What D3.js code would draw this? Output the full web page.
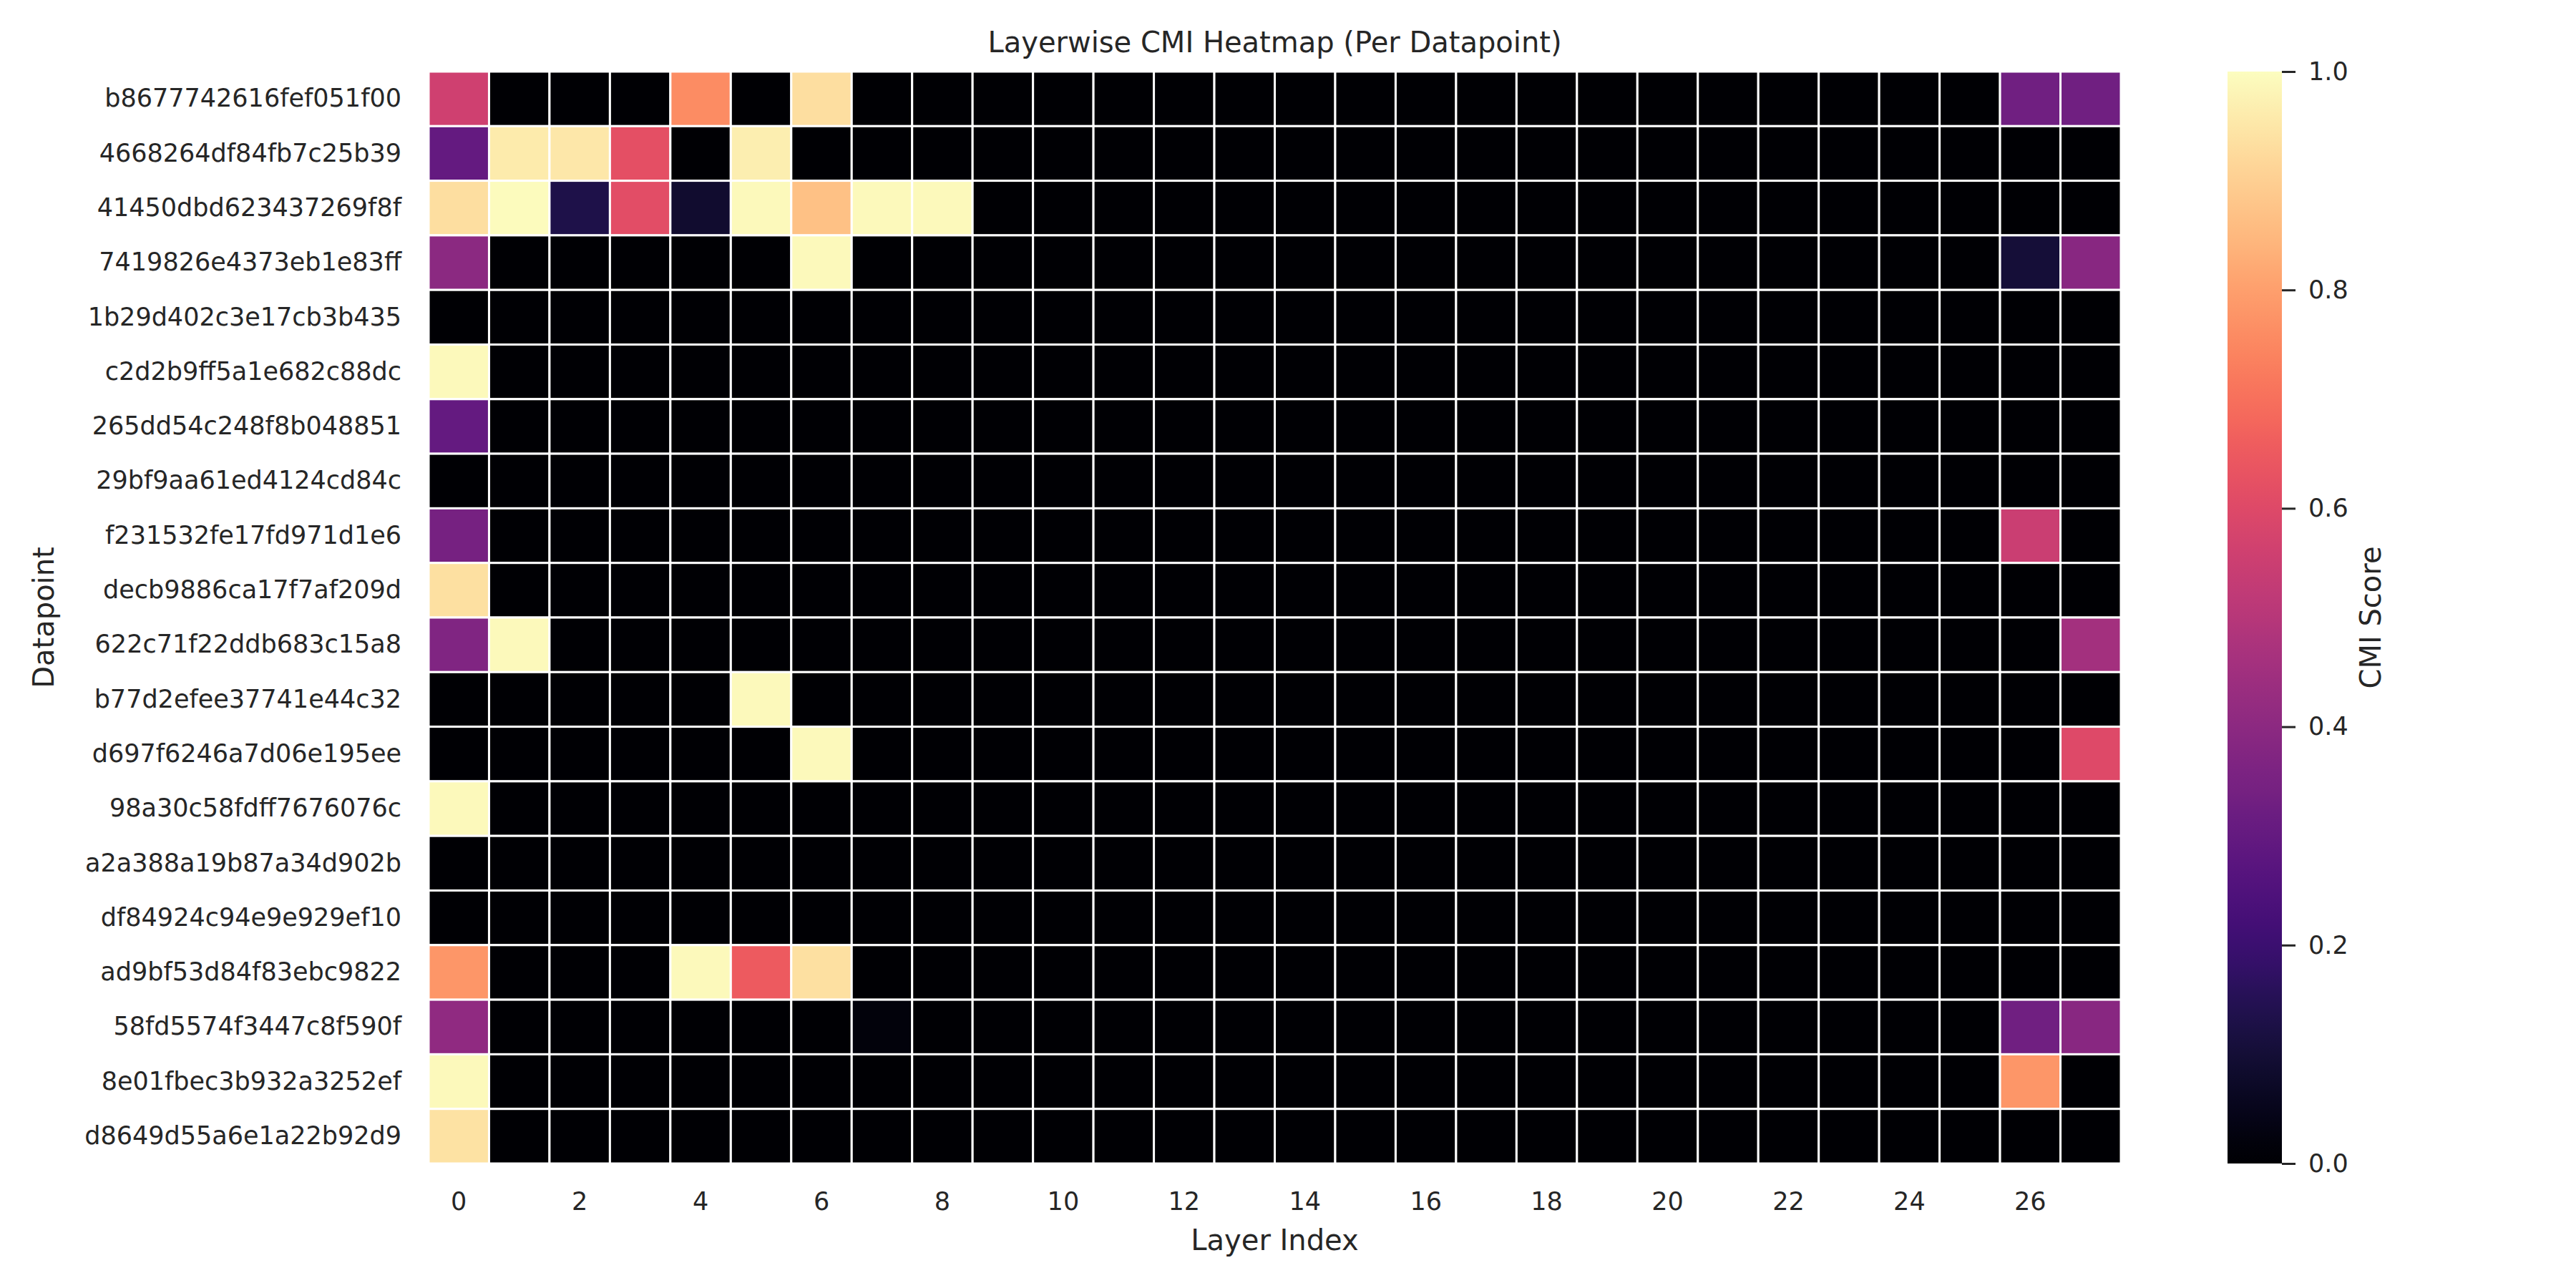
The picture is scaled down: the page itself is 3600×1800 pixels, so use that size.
<!DOCTYPE html>
<html>
<head>
<meta charset="utf-8">
<script src="https://cdn.jsdelivr.net/npm/d3@7"></script>
<style>
  body { margin: 0; background: #fff; }
  text { font-family: "DejaVu Sans", sans-serif; fill: #262626; }
</style>
</head>
<body>
<svg id="chart" width="3600" height="1800"></svg>
<script>
// datapoint ids, top to bottom
const datapoints = [
  "b8677742616fef051f00", "4668264df84fb7c25b39", "41450dbd623437269f8f",
  "7419826e4373eb1e83ff", "1b29d402c3e17cb3b435", "c2d2b9ff5a1e682c88dc",
  "265dd54c248f8b048851", "29bf9aa61ed4124cd84c", "f231532fe17fd971d1e6",
  "decb9886ca17f7af209d", "622c71f22ddb683c15a8", "b77d2efee37741e44c32",
  "d697f6246a7d06e195ee", "98a30c58fdff7676076c", "a2a388a19b87a34d902b",
  "df84924c94e9e929ef10", "ad9bf53d84f83ebc9822", "58fd5574f3447c8f590f",
  "8e01fbec3b932a3252ef", "d8649d55a6e1a22b92d9"
];

// layer indices 0..27
const layers = [0,1,2,3,4,5,6,7,8,9,10,11,12,13,14,15,16,17,18,19,20,21,22,23,24,25,26,27];
const layerTicks = [0,2,4,6,8,10,12,14,16,18,20,22,24,26];
const cbarTicks = [0, 0.2, 0.4, 0.6, 0.8, 1.0];

// CMI score per datapoint (row) and layer (column)
const cmi = [
  [0.56,0,0,0,0.76,0,0.93,0,0,0,0,0,0,0,0,0,0,0,0,0,0,0,0,0,0,0,0.33,0.33],
  [0.30,0.96,0.95,0.62,0,0.965,0,0,0,0,0,0,0,0,0,0,0,0,0,0,0,0,0,0,0,0,0,0],
  [0.93,0.995,0.13,0.61,0.086,0.99,0.87,0.99,0.99,0,0,0,0,0,0,0,0,0,0,0,0,0,0,0,0,0,0,0],
  [0.395,0,0,0,0,0,0.99,0,0,0,0,0,0,0,0,0,0,0,0,0,0,0,0,0,0,0,0.105,0.39],
  [0,0,0,0,0,0,0,0,0,0,0,0,0,0,0,0,0,0,0,0,0,0,0,0,0,0,0,0],
  [0.99,0,0,0,0,0,0,0,0,0,0,0,0,0,0,0,0,0,0,0,0,0,0,0,0,0,0,0],
  [0.30,0,0,0,0,0,0,0,0,0,0,0,0,0,0,0,0,0,0,0,0,0,0,0,0,0,0,0],
  [0,0,0,0,0,0,0,0,0,0,0,0,0,0,0,0,0,0,0,0,0,0,0,0,0,0,0,0],
  [0.345,0,0,0,0,0,0,0,0,0,0,0,0,0,0,0,0,0,0,0,0,0,0,0,0,0,0.55,0],
  [0.937,0,0,0,0,0,0,0,0,0,0,0,0,0,0,0,0,0,0,0,0,0,0,0,0,0,0,0],
  [0.37,0.99,0,0,0,0,0,0,0,0,0,0,0,0,0,0,0,0,0,0,0,0,0,0,0,0,0,0.455],
  [0,0,0,0,0,0.99,0,0,0,0,0,0,0,0,0,0,0,0,0,0,0,0,0,0,0,0,0,0],
  [0,0,0,0,0,0,0.99,0,0,0,0,0,0,0,0,0,0,0,0,0,0,0,0,0,0,0,0,0.60],
  [0.99,0,0,0,0,0,0,0,0,0,0,0,0,0,0,0,0,0,0,0,0,0,0,0,0,0,0,0],
  [0,0,0,0,0,0,0,0,0,0,0,0,0,0,0,0,0,0,0,0,0,0,0,0,0,0,0,0],
  [0,0,0,0,0,0,0,0,0,0,0,0,0,0,0,0,0,0,0,0,0,0,0,0,0,0,0,0],
  [0.78,0,0,0,0.99,0.65,0.937,0,0,0,0,0,0,0,0,0,0,0,0,0,0,0,0,0,0,0,0,0],
  [0.41,0,0,0,0,0,0,0.02,0,0,0,0,0,0,0,0,0,0,0,0,0,0,0,0,0,0,0.33,0.39],
  [0.99,0,0,0,0,0,0,0,0,0,0,0,0,0,0,0,0,0,0,0,0,0,0,0,0,0,0.78,0],
  [0.94,0,0,0,0,0,0,0,0,0,0,0,0,0,0,0,0,0,0,0,0,0,0,0,0,0,0,0]
];

const svg = d3.select("#chart");

// heatmap box
const hmLeft = 599, hmRight = 2964, hmTop = 100, hmBottom = 1626;

const x = d3.scaleBand().domain(layers).range([hmLeft, hmRight]).padding(0);
const y = d3.scaleBand().domain(datapoints).range([hmTop, hmBottom]).padding(0);
const color = d3.scaleSequential(d3.interpolateMagma).domain([0, 1]);

// flatten into cells
const cells = [];
cmi.forEach((row, i) => row.forEach((v, j) => cells.push({dp: datapoints[i], layer: layers[j], v: v})));

svg.append("g")
  .selectAll("rect")
  .data(cells)
  .enter()
  .append("rect")
  .attr("x", d => x(d.layer))
  .attr("y", d => y(d.dp))
  .attr("width", x.bandwidth())
  .attr("height", y.bandwidth())
  .attr("fill", d => color(d.v))
  .attr("stroke", "white")
  .attr("stroke-width", 3);

// x axis
const xAxis = svg.append("g")
  .attr("transform", `translate(0,${hmBottom})`)
  .call(d3.axisBottom(x).tickValues(layerTicks).tickSize(0).tickPadding(40));
xAxis.select(".domain").remove();
xAxis.selectAll("text").style("font-size", "35px").style("font-family", "DejaVu Sans").attr("fill", "#262626");

// y axis
const yAxis = svg.append("g")
  .attr("transform", `translate(${hmLeft},0)`)
  .call(d3.axisLeft(y).tickSize(0).tickPadding(38));
yAxis.select(".domain").remove();
yAxis.selectAll("text").style("font-size", "35px").style("font-family", "DejaVu Sans").attr("fill", "#262626");

// title + axis labels
svg.append("text")
  .attr("x", (hmLeft + hmRight) / 2).attr("y", 73)
  .attr("text-anchor", "middle")
  .style("font-size", "40px")
  .text("Layerwise CMI Heatmap (Per Datapoint)");

svg.append("text")
  .attr("x", (hmLeft + hmRight) / 2).attr("y", 1747)
  .attr("text-anchor", "middle")
  .style("font-size", "40px")
  .text("Layer Index");

svg.append("text")
  .attr("transform", `translate(75,${(hmTop + hmBottom) / 2}) rotate(-90)`)
  .attr("text-anchor", "middle")
  .style("font-size", "40px")
  .text("Datapoint");

// colorbar
const cbLeft = 3113, cbWidth = 76;
const cbScale = d3.scaleLinear().domain([0, 1]).range([hmBottom, hmTop]);

const grad = svg.append("defs").append("linearGradient")
  .attr("id", "magma").attr("x1", 0).attr("y1", 1).attr("x2", 0).attr("y2", 0);
grad.selectAll("stop")
  .data(d3.range(0, 1.0001, 0.02))
  .enter().append("stop")
  .attr("offset", d => d)
  .attr("stop-color", d => color(d));

svg.append("rect")
  .attr("x", cbLeft).attr("y", hmTop)
  .attr("width", cbWidth).attr("height", hmBottom - hmTop)
  .attr("fill", "url(#magma)");

const cbAxis = svg.append("g")
  .attr("transform", `translate(${cbLeft + cbWidth},0)`)
  .call(d3.axisRight(cbScale).tickValues(cbarTicks).tickFormat(d3.format(".1f")).tickSize(19).tickPadding(18));
cbAxis.select(".domain").remove();
cbAxis.selectAll("line").attr("stroke", "#262626").attr("stroke-width", 3);
cbAxis.selectAll("text").style("font-size", "35px").style("font-family", "DejaVu Sans").attr("fill", "#262626");

svg.append("text")
  .attr("transform", `translate(3327,${(hmTop + hmBottom) / 2}) rotate(-90)`)
  .attr("text-anchor", "middle")
  .style("font-size", "40px")
  .text("CMI Score");
</script>
</body>
</html>
